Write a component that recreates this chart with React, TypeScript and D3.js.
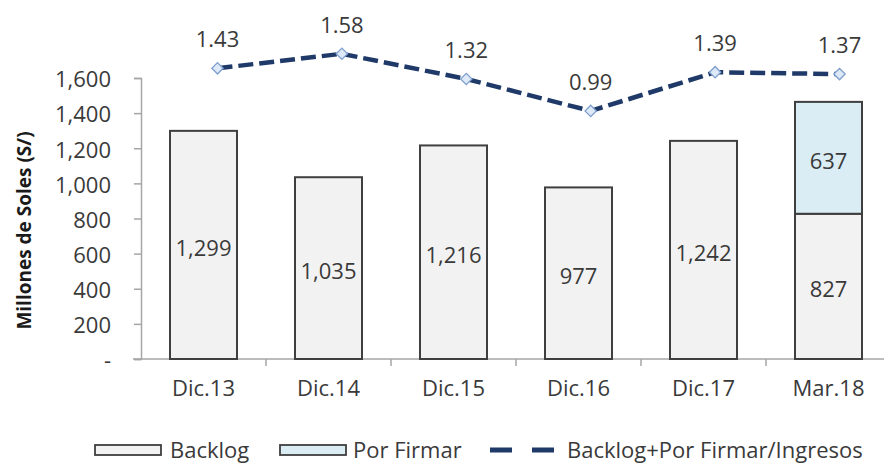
import React, { useRef, useEffect } from "react";
import * as d3 from "d3";

const categories = ["Dic.13", "Dic.14", "Dic.15", "Dic.16", "Dic.17", "Mar.18"];
const backlog = [1299, 1035, 1216, 977, 1242, 827];
const porFirmar = [0, 0, 0, 0, 0, 637];
const ratio = [1.43, 1.58, 1.32, 0.99, 1.39, 1.37];
const yTicks = [0, 200, 400, 600, 800, 1000, 1200, 1400, 1600];
const seriesNames = ["Backlog", "Por Firmar", "Backlog+Por Firmar/Ingresos"];

const FONT = "'Open Sans', sans-serif";
const TEXT = "#3a3a3a";

const App = () => {
  const ref = useRef<SVGSVGElement | null>(null);

  useEffect(() => {
    const width = 884;
    const plot = { left: 141, right: 891, top: 78, bottom: 359 };

    const svg = d3.select(ref.current);
    svg.selectAll("*").remove();

    const x = d3
      .scaleBand()
      .domain(categories)
      .range([plot.left, plot.right])
      .paddingInner(0.464)
      .paddingOuter(0.232);

    // secondary (hidden) axis for the ratio line
    const xLine = d3.scalePoint().domain(categories).range([217.5, 839.5]);
    const y = d3.scaleLinear().domain([0, 1600]).range([plot.bottom, plot.top]);
    const y2 = d3.scaleLinear().domain([-1.57, 1.33]).range([plot.bottom, plot.top]);

    const rows = categories.map((c, i) => ({ cat: c, backlog: backlog[i], porFirmar: porFirmar[i] }));
    const stacked = d3.stack<any>().keys(["backlog", "porFirmar"])(rows);
    const fills: Record<string, string> = { backlog: "#f2f2f2", porFirmar: "#daedf4" };

    // y axis
    const yAxis = svg
      .append("g")
      .attr("transform", `translate(${plot.left},0)`)
      .call(
        d3
          .axisLeft(y)
          .tickValues(yTicks)
          .tickSize(7)
          .tickPadding(23)
          .tickFormat((d: any) => (d === 0 ? "-" : d3.format(",")(d)))
      );
    yAxis.select(".domain").attr("stroke", "#a6a6a6").attr("stroke-width", 1.5);
    yAxis.selectAll(".tick line").attr("stroke", "#a6a6a6").attr("stroke-width", 1.5);
    yAxis
      .selectAll("text")
      .attr("fill", TEXT)
      .style("font-family", FONT)
      .style("font-size", "22px")
      .attr("dy", "0.4em");

    // x axis line + ticks between categories
    const xg = svg.append("g");
    xg.append("line")
      .attr("x1", plot.left - 8)
      .attr("x2", width)
      .attr("y1", plot.bottom)
      .attr("y2", plot.bottom)
      .attr("stroke", "#a6a6a6")
      .attr("stroke-width", 1.5);
    const bounds = categories.map((c) => (x(c) as number) - (x.step() * x.paddingInner()) / 2);
    xg.selectAll("line.tk")
      .data(bounds.slice(1))
      .enter()
      .append("line")
      .attr("class", "tk")
      .attr("x1", (d) => d)
      .attr("x2", (d) => d)
      .attr("y1", plot.bottom)
      .attr("y2", plot.bottom + 7)
      .attr("stroke", "#a6a6a6")
      .attr("stroke-width", 1.5);
    xg.selectAll("text")
      .data(categories)
      .enter()
      .append("text")
      .attr("x", (d) => (x(d) as number) + x.bandwidth() / 2)
      .attr("y", plot.bottom + 37)
      .attr("text-anchor", "middle")
      .attr("fill", TEXT)
      .style("font-family", FONT)
      .style("font-size", "22px")
      .text((d) => d);

    // bars
    stacked.forEach((s) => {
      const g = svg.append("g");
      g.selectAll("rect")
        .data(s.filter((d) => d[1] - d[0] > 0))
        .enter()
        .append("rect")
        .attr("x", (d: any) => x(d.data.cat) as number)
        .attr("y", (d) => y(d[1]))
        .attr("width", x.bandwidth())
        .attr("height", (d) => y(d[0]) - y(d[1]))
        .attr("fill", fills[s.key])
        .attr("stroke", "#3f3f3f")
        .attr("stroke-width", 2);
      g.selectAll("text")
        .data(s.filter((d) => d[1] - d[0] > 0))
        .enter()
        .append("text")
        .attr("x", (d: any) => (x(d.data.cat) as number) + x.bandwidth() / 2)
        .attr("y", (d) => (y(d[0]) + y(d[1])) / 2)
        .attr("dy", "0.5em")
        .attr("text-anchor", "middle")
        .attr("fill", TEXT)
        .style("font-family", FONT)
        .style("font-size", "22px")
        .text((d) => d3.format(",")(d[1] - d[0]));
    });

    // ratio line
    const line = d3
      .line<number>()
      .x((d, i) => xLine(categories[i]) as number)
      .y((d) => y2(d));
    svg
      .append("path")
      .datum(ratio)
      .attr("d", line)
      .attr("fill", "none")
      .attr("stroke", "#1f3a68")
      .attr("stroke-width", 4.5)
      .attr("stroke-dasharray", "15,6");

    const marker = d3.symbol().type(d3.symbolSquare).size(64);
    svg
      .append("g")
      .selectAll("path")
      .data(ratio)
      .enter()
      .append("path")
      .attr("d", marker)
      .attr("transform", (d, i) => `translate(${xLine(categories[i])},${y2(d)}) rotate(45)`)
      .attr("fill", "#dde9f7")
      .attr("stroke", "#7f9fcf")
      .attr("stroke-width", 1.3);

    svg
      .append("g")
      .selectAll("text")
      .data(ratio)
      .enter()
      .append("text")
      .attr("x", (d, i) => xLine(categories[i]) as number)
      .attr("y", (d) => y2(d) - 21)
      .attr("text-anchor", "middle")
      .attr("fill", TEXT)
      .style("font-family", FONT)
      .style("font-size", "22px")
      .text((d) => d.toFixed(2));

    // y axis title
    svg
      .append("text")
      .attr("transform", `translate(31,${(plot.top + plot.bottom) / 2 + 12}) rotate(-90)`)
      .attr("text-anchor", "middle")
      .attr("fill", "#1a1a1a")
      .style("font-family", FONT)
      .style("font-size", "19px")
      .style("font-weight", "bold")
      .text("Millones de Soles (S/)");

    // legend
    const legend = svg.append("g").style("font-family", FONT).style("font-size", "22px");
    const legendY = 450;
    const items = [
      { name: seriesNames[0], kind: "rect", fill: fills.backlog, x0: 95, tx: 170 },
      { name: seriesNames[1], kind: "rect", fill: fills.porFirmar, x0: 280, tx: 353 },
      { name: seriesNames[2], kind: "line", fill: "#1f3a68", x0: 490, tx: 567 },
    ];
    items.forEach((it) => {
      if (it.kind === "rect") {
        legend
          .append("rect")
          .attr("x", it.x0)
          .attr("y", legendY - 5)
          .attr("width", 66)
          .attr("height", 10)
          .attr("fill", it.fill)
          .attr("stroke", "#3f3f3f")
          .attr("stroke-width", 1.8);
      } else {
        legend
          .append("line")
          .attr("x1", it.x0)
          .attr("x2", it.x0 + 64)
          .attr("y1", legendY)
          .attr("y2", legendY)
          .attr("stroke", it.fill)
          .attr("stroke-width", 5)
          .attr("stroke-dasharray", "22,20");
      }
      legend
        .append("text")
        .attr("x", it.tx)
        .attr("y", legendY + 8)
        .attr("fill", TEXT)
        .text(it.name);
    });
  }, []);

  return (
    <svg
      ref={ref}
      width={884}
      height={464}
      style={{ position: "absolute", left: 0, top: 0, background: "#fff" }}
    />
  );
};

export default App;
